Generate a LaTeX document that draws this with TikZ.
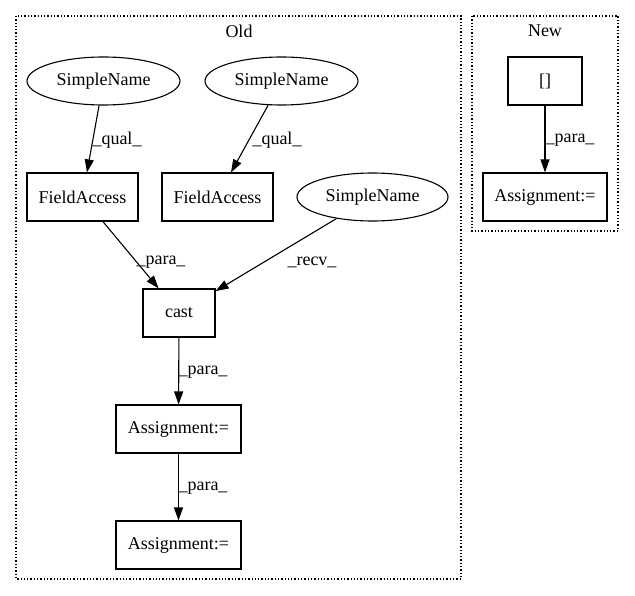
\documentclass[tikz,border=0pt]{standalone}
\usepackage{fontspec}
\setmainfont{Liberation Serif}
\usetikzlibrary{arrows.meta,shapes.geometric}

\begin{document}
\begin{tikzpicture}[x=1pt, y=-1pt, line width=1.1pt]
  \tikzset{every node/.style={font=\fontsize{18}{20}\selectfont},
           astbox/.style={draw, rectangle, minimum height=48pt, inner sep=0pt},
           astname/.style={draw, ellipse, minimum width=153pt, minimum height=48pt, inner sep=0pt},
           astedge/.style={-{Triangle[length=13pt,width=9pt]}},
           cluster/.style={draw, dotted, line width=1.3pt}}
  \useasboundingbox (0,0) rectangle (635,596);
  \draw[cluster] (16,16) rectangle (461,579);
  \draw[cluster] (472,16) rectangle (618,231);
  \node (oldlbl) at (239,31) {Old};
  \node (newlbl) at (545,31) {New};
  \node[astname] (name1) at (103.5,81) {SimpleName};
  \node[astname] (name2) at (281.5,81) {SimpleName};
  \node[astbox, minimum width=111pt] (field1) at (82.5,197) {FieldAccess};
  \node[astbox, minimum width=111pt] (field2) at (217.5,197) {FieldAccess};
  \node[astname, minimum width=151pt] (name3) at (372.5,197) {SimpleName};
  \node[astbox, minimum width=72pt] (cast) at (179,313) {cast};
  \node[astbox, minimum width=125pt] (assign1) at (178.5,429) {Assignment:=};
  \node[astbox, minimum width=125pt] (assign2) at (178.5,545) {Assignment:=};
  \node[astbox, minimum width=74pt] (index) at (545,81) {[]};
  \node[astbox, minimum width=124pt] (assign3) at (545,197) {Assignment:=};
  \draw[astedge] (name1) -- (field1);
  \draw[astedge] (name2) -- (field2);
  \draw[astedge] (field1) -- (cast);
  \draw[astedge] (name3) -- (cast);
  \draw[astedge] (cast) -- (assign1);
  \draw[astedge] (assign1) -- (assign2);
  \draw[astedge] (index) -- (assign3);
  \node (qual1) at (117,140) {\_qual\_};
  \node (qual2) at (277,140) {\_qual\_};
  \node (para1) at (161,262) {\_para\_};
  \node (recv1) at (312,262) {\_recv\_};
  \node (para2) at (203,372) {\_para\_};
  \node (para3) at (203,488) {\_para\_};
  \node (para4) at (570,140) {\_para\_};
\end{tikzpicture}
\end{document}
